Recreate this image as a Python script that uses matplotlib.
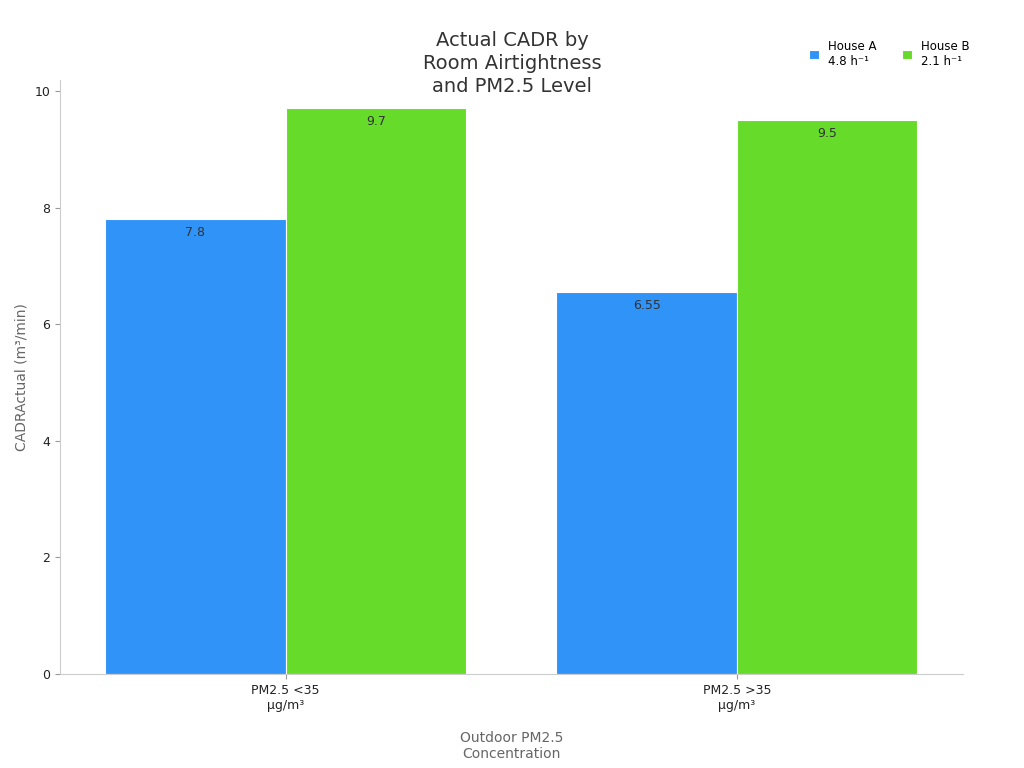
import matplotlib
matplotlib.use("Agg")
import matplotlib.pyplot as plt
import numpy as np

categories = ["PM2.5 <35\nµg/m³", "PM2.5 >35\nµg/m³"]
series_names = ["House A\n4.8 h⁻¹", "House B\n2.1 h⁻¹"]
house_a = [7.8, 6.55]
house_b = [9.7, 9.5]
colors = ["#2f93f8", "#67db29"]

fig = plt.figure(figsize=(10.24, 7.68), dpi=100)
ax = fig.add_axes([0.0586, 0.1224, 0.8814, 0.7736])
x = np.arange(len(categories))
w = 0.4
for i, (vals, c, name) in enumerate(zip([house_a, house_b], colors, series_names)):
    pos = x + (i - 0.5) * w
    bars = ax.bar(pos, vals, w, color=c, edgecolor="white", linewidth=0.8, label=name)
    for p, v in zip(pos, vals):
        ax.text(p, v - 0.12, f"{v:g}", ha="center", va="top", fontsize=9, color="#333333")

ax.set_xlim(-0.5, 1.5)
ax.set_ylim(0, 10.19)
ax.set_xticks(x)
ax.set_xticklabels(categories, fontsize=9, color="#222222")
ax.set_yticks([0, 2, 4, 6, 8, 10])
ax.tick_params(axis="y", labelsize=9, colors="#222222")
for s in ["top", "right"]:
    ax.spines[s].set_visible(False)
for s in ["left", "bottom"]:
    ax.spines[s].set_color("#cccccc")
ax.tick_params(color="#999999")
ax.set_ylabel("CADRActual (m³/min)", fontsize=10, color="#666666")
ax.set_xlabel("Outdoor PM2.5\nConcentration", fontsize=10, color="#666666", labelpad=14)
fig.text(0.5, 0.875, "Actual CADR by\nRoom Airtightness\nand PM2.5 Level", ha="center", va="bottom",
         fontsize=14, color="#333333", linespacing=1.25)
leg = ax.legend(loc="upper right", bbox_to_anchor=(1.02, 1.085), ncol=2, frameon=False,
                fontsize=8.5, handlelength=0.8, handleheight=0.8, columnspacing=2.2)
fig.savefig("out.png", dpi=100)
